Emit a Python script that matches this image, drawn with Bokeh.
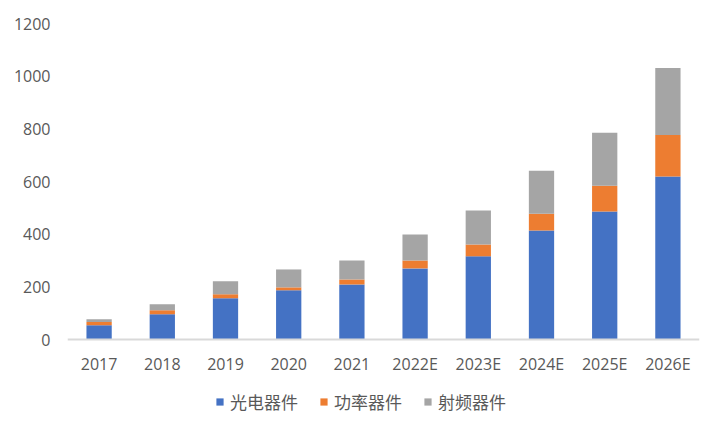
from bokeh.plotting import figure
from bokeh.models import ColumnDataSource, Legend, LegendItem, Range1d, FixedTicker
from bokeh.embed import file_html
from bokeh.resources import INLINE

years = ["2017", "2018", "2019", "2020", "2021", "2022E", "2023E", "2024E", "2025E", "2026E"]
optoelectronic = [54, 96, 157, 187, 209, 270, 316, 414, 486, 619]
power = [12, 15, 15, 11, 19, 30, 45, 64, 98, 158]
rf = [11, 23, 49, 68, 72, 99, 129, 163, 201, 254]
series_names = ["光电器件", "功率器件", "射频器件"]
colors = ["#4472C4", "#ED7D31", "#A5A5A5"]
y_ticks = [0, 200, 400, 600, 800, 1000, 1200]
y_max = 1200

# plot area: value axis occupies 316 px of a 409 px tall frame; the rest holds labels + legend
y_min = -y_max * (409 - 316) / 316

src = ColumnDataSource(dict(year=years, s0=optoelectronic, s1=power, s2=rf))

p = figure(x_range=years, y_range=Range1d(y_min, y_max), width=722, height=432,
           output_backend="svg", toolbar_location=None,
           min_border_left=67, min_border_right=23, min_border_top=23, min_border_bottom=0)
p.outline_line_color = None
p.xgrid.grid_line_color = None
p.ygrid.grid_line_color = None

renderers = p.vbar_stack(["s0", "s1", "s2"], x="year", width=0.4, color=colors,
                         line_color=None, source=src)

font = "Open Sans"
p.yaxis.ticker = FixedTicker(ticks=y_ticks)
p.yaxis.axis_line_color = None
p.yaxis.major_tick_line_color = None
p.yaxis.minor_tick_line_color = None
p.yaxis.major_label_standoff = 11
p.yaxis.major_label_text_font = font
p.yaxis.major_label_text_font_size = "16px"
p.yaxis.major_label_text_color = "#595959"

p.xaxis.fixed_location = 0
p.xaxis.axis_line_color = "#D9D9D9"
p.xaxis.axis_line_width = 2
p.xaxis.major_tick_line_color = None
p.xaxis.minor_tick_line_color = None
p.xaxis.major_label_standoff = 7
p.xaxis.major_label_text_font = font
p.xaxis.major_label_text_font_size = "16px"
p.xaxis.major_label_text_color = "#595959"

legend = Legend(items=[LegendItem(label=n, renderers=[r]) for n, r in zip(series_names, renderers)],
                orientation="horizontal", location=(148, 18),
                glyph_width=9, glyph_height=9, label_standoff=6, spacing=21,
                padding=0, margin=0, border_line_color=None, background_fill_alpha=0,
                label_text_font="Noto Sans CJK SC", label_text_font_size="17px",
                label_text_color="#595959", label_height=20)
p.add_layout(legend, "center")

open("out.html", "w").write(file_html(p, INLINE))
